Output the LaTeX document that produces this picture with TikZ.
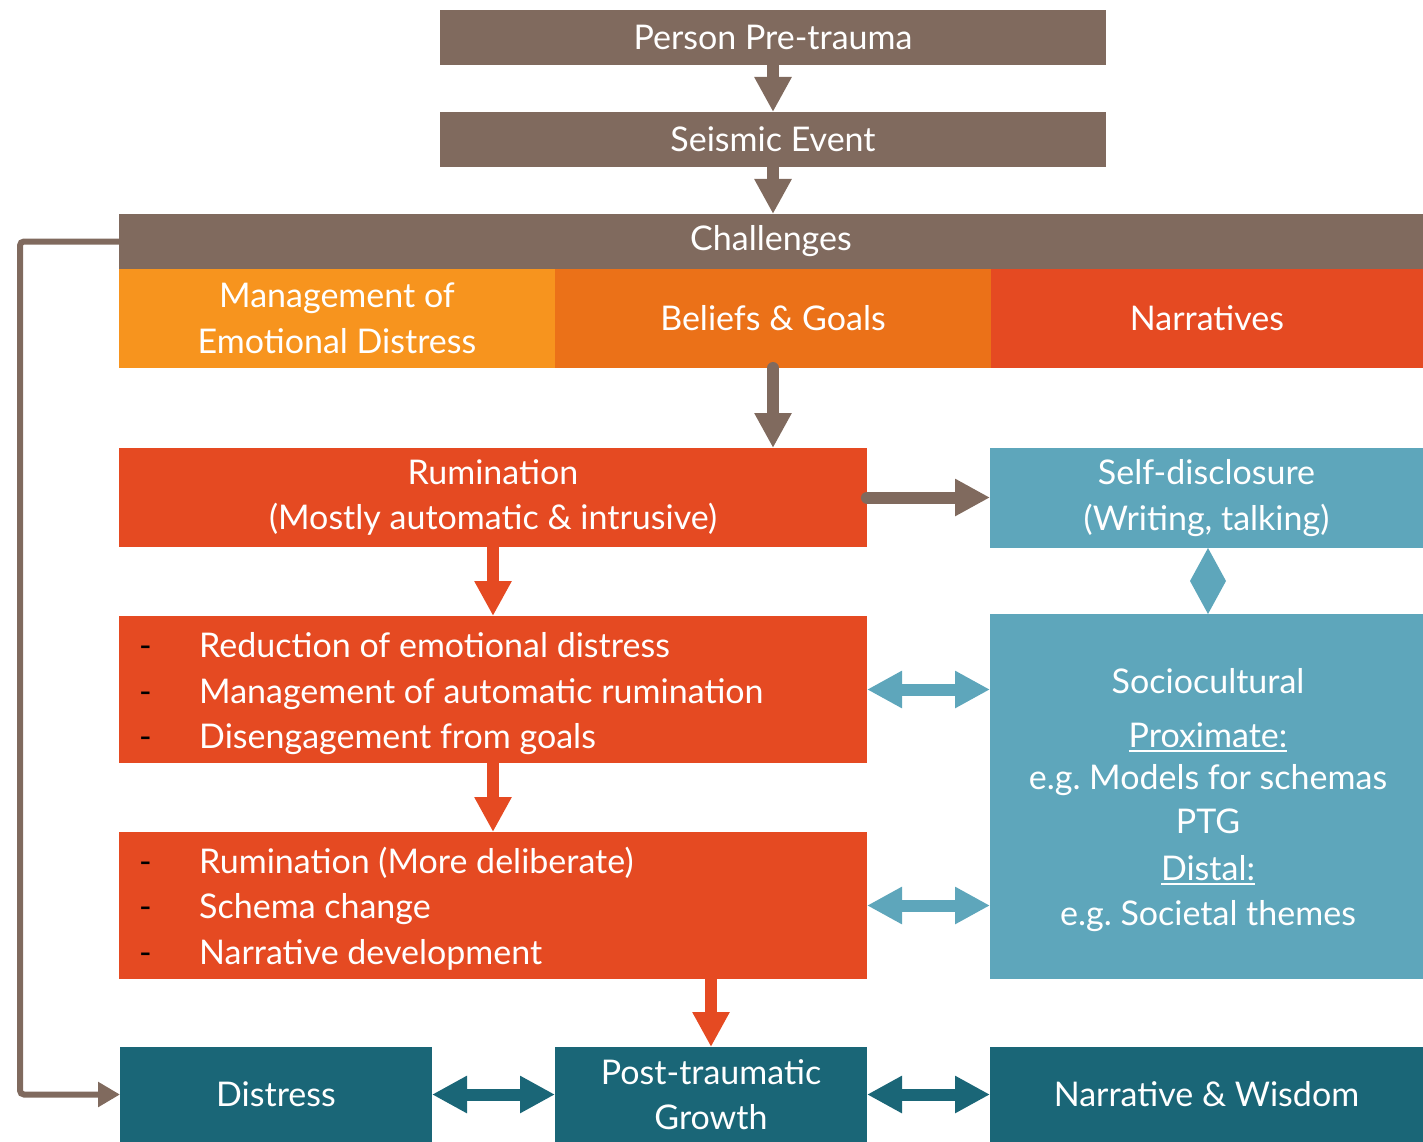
\documentclass[tikz,border=0pt]{standalone}
\usepackage{fontspec}
\setmainfont{Lato}
\usetikzlibrary{arrows.meta,calc}
\definecolor{brn}{RGB}{128,106,94}
\definecolor{orgA}{RGB}{247,148,30}
\definecolor{orgB}{RGB}{235,113,24}
\definecolor{redA}{RGB}{229,74,34}
\definecolor{tealL}{RGB}{94,166,187}
\definecolor{tealD}{RGB}{26,102,119}
\newcommand\txtsz{\fontsize{34}{45.5}\selectfont}
\newcommand\uline[1]{\setbox0\hbox{#1}\rlap{\rule[-5pt]{\wd0}{1.6pt}}\box0}
\frenchspacing
\tikzset{
  box/.style={rectangle, inner sep=0pt, outer sep=0pt, text=white, align=center, font=\txtsz},
  lbl/.style={inner sep=0pt, text=white, font=\txtsz},
  dsh/.style={inner sep=0pt, text=black, font=\txtsz},
  big/.style={line width=12pt, -{Triangle[length=35pt,width=35pt]}},
  dbl/.style={line width=12pt, {Triangle[length=35pt,width=35pt]}-{Triangle[length=35pt,width=35pt]}},
  fb/.style={line width=6pt, draw=brn, rounded corners=4pt, -{Triangle[length=22pt,width=24pt]}}
}
\begin{document}
\begin{tikzpicture}[x=1pt,y=-1pt]
\useasboundingbox (0,0) rectangle (1423,1142);
% top chain
\node[box, fill=brn, minimum width=666, minimum height=55] (pre) at (773,37.5) {Person Pre-trauma};
\node[box, fill=brn, minimum width=666, minimum height=55] (se) at (773,139.5) {Seismic Event};
\node[box, fill=brn, minimum width=1304, minimum height=55] (ch) at (771,241.5) {\strut Challenges};
\node[box, fill=orgA, minimum width=436, minimum height=99] (mg) at (337,318.5) {Management of\\Emotional Distress};
\node[box, fill=orgB, minimum width=436, minimum height=99] (bg) at (773,318.5) {Beliefs \& Goals};
\node[box, fill=redA, minimum width=432, minimum height=99] (nr) at (1207,318.5) {Narratives};
% rumination row
\node[box, fill=redA, minimum width=748, minimum height=99] (rum) at (493,497.5) {Rumination\\(Mostly automatic \& intrusive)};
\node[box, fill=tealL, minimum width=433, minimum height=100] (sd) at (1206.5,498) {Self-disclosure\\(Writing, talking)};
% processing boxes
\node[box, fill=redA, minimum width=748, minimum height=147] (rd) at (493,689.5) {};
\node[box, fill=redA, minimum width=748, minimum height=147] (dl) at (493,905.5) {};
\node[box, fill=tealL, minimum width=433, minimum height=365] (soc) at (1206.5,796.5) {};
% outcomes
\node[box, fill=tealD, minimum width=312, minimum height=95] (dis) at (276,1094.5) {Distress};
\node[box, fill=tealD, minimum width=312, minimum height=95] (ptg) at (711,1094.5) {Post-traumatic\\Growth};
\node[box, fill=tealD, minimum width=433, minimum height=95] (nw) at (1206.5,1094.5) {Narrative \& Wisdom};
% bullet lists
\foreach \n/\y/\t in {r1/657/Reduction of emotional distress, r2/703/Management of automatic rumination, r3/748/Disengagement from goals,
                      d1/873/Rumination (More deliberate), d2/918/Schema change, d3/964/Narrative development}{
  \node[dsh, anchor=base west] (b\n) at (139,\y) {-};
  \node[lbl, anchor=base west] (t\n) at (199,\y) {\t};
}
% sociocultural text
\node[lbl, anchor=base] (s1) at (1208,693) {Sociocultural};
\node[lbl, anchor=base] (s2) at (1208,747) {\uline{Proximate:}};
\node[lbl, anchor=base] (s3) at (1208,789) {e.g. Models for schemas};
\node[lbl, anchor=base] (s4) at (1208,833) {PTG};
\node[lbl, anchor=base] (s5) at (1208,880) {\uline{Distal:}};
\node[lbl, anchor=base] (s6) at (1208,925) {e.g. Societal themes};
% connectors
\draw[big, draw=brn] (pre.south) -- (se.north);
\draw[big, draw=brn] (se.south) -- (ch.north -| se.south);
\draw[big, draw=brn, line cap=round] (bg.south) -- (rum.north -| bg.south);
\draw[big, draw=brn, line cap=round] (rum.east) -- (sd.west |- rum.east);
\draw[big, draw=redA] (rum.south) -- (rd.north);
\draw[big, draw=redA] (rd.south) -- (dl.north);
\draw[big, draw=redA] (dl.south -| ptg.north) -- (ptg.north);
\draw[dbl, draw=tealL] (rd.east) -- (rd.east -| soc.west);
\draw[dbl, draw=tealL] (dl.east) -- (dl.east -| soc.west);
% two-way link between self-disclosure and sociocultural
\fill[tealL] ($(sd.south)+(1.5,0)$) -- ($($(sd.south)!0.5!(soc.north)$)+(19.5,0)$)
   -- ($(soc.north)+(1.5,0)$) -- ($($(sd.south)!0.5!(soc.north)$)+(-16.5,0)$) -- cycle;
\draw[dbl, draw=tealD] (dis.east) -- (ptg.west);
\draw[dbl, draw=tealD] (ptg.east) -- (nw.west);
\draw[fb] (ch.west) -- ++(-99,0) |- (dis.west);
\end{tikzpicture}
\end{document}
